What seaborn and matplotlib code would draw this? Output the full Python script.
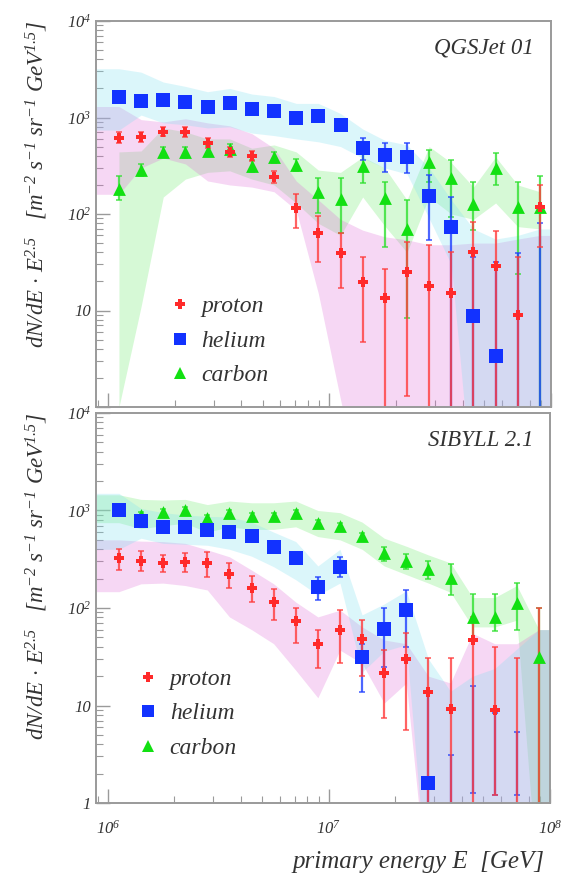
import numpy as np
import pandas as pd
import matplotlib
matplotlib.use("Agg")
import matplotlib.pyplot as plt
import seaborn as sns
from matplotlib.lines import Line2D
from matplotlib.ticker import FixedLocator, NullFormatter, FixedFormatter

# ---------------- data ----------------
log_energy = [6.05, 6.15, 6.25, 6.35, 6.45, 6.55, 6.65, 6.75, 6.85, 6.95,
              7.05, 7.15, 7.25, 7.35, 7.45, 7.55, 7.65, 7.75, 7.85, 7.95]
elements = ["proton", "helium", "carbon"]
panel_names = ["QGSJet 01", "SIBYLL 2.1"]

# QGSJet 01 panel
proton_q = [618, 632, 713, 703, 541, 439, 399, 244, 115, 64, 39, 19.9, 13.4, 25.2, 18.1, 15.1, 40.6, 29.1, 9.0, 119]
proton_q_hi = [700, 710, 800, 790, 610, 500, 450, 280, 160, 95, 63, 36, 27, 51, 48, 40, 83, 66, 36, 200]
proton_q_lo = [550, 560, 640, 630, 480, 390, 350, 210, 72, 32, 17, 4.7, 0.1, 1.3, 0.1, 0.1, 0.1, 0.1, 0.1, 45]
helium_q = [1615, 1470, 1530, 1435, 1275, 1415, 1228, 1180, 993, 1040, 841, 484, 404, 392, 152, 72.8, 8.75, 3.35, 0.3, 0.3]
helium_q_hi = [1750, 1600, 1660, 1560, 1390, 1540, 1340, 1290, 1090, 1140, 930, 610, 540, 544, 255, 150, 36, 32, 39, 80]
helium_q_lo = [1490, 1350, 1400, 1320, 1170, 1300, 1130, 1080, 900, 950, 760, 360, 270, 265, 54, 0.1, 0.1, 0.1, 0.1, 0.1]
carbon_q = [180, 286, 443, 437, 453, 472, 316, 387, 322, 168, 142, 316, 148, 70, 343, 234, 126, 297, 118, 119]
carbon_q_hi = [250, 330, 500, 490, 510, 530, 360, 440, 370, 235, 235, 480, 215, 140, 460, 360, 215, 430, 215, 245]
carbon_q_lo = [140, 245, 390, 385, 400, 420, 275, 340, 280, 102, 63, 210, 45, 8.4, 215, 93, 68, 200, 24, 0.1]

proton_q_band_hi = [1300, 950, 900, 970, 880, 820, 680, 480, 220, 140, 88, 68, 58, 54, 48, 48, 50, 50, 55, 60]
proton_q_band_lo = [160, 300, 380, 330, 220, 200, 190, 170, 110, 15, 1.2, 0.1, 0.1, 0.1, 0.1, 0.1, 0.1, 0.1, 0.1, 0.1]
helium_q_band_hi = [3200, 2950, 2330, 2100, 1850, 2000, 1750, 1650, 1400, 1400, 1100, 760, 580, 520, 300, 140, 70, 55, 60, 70]
helium_q_band_lo = [740, 1060, 880, 840, 780, 800, 690, 650, 600, 560, 500, 380, 300, 260, 90, 30, 0.1, 0.1, 0.1, 0.1]
carbon_q_band_hi = [440, 450, 780, 710, 600, 600, 480, 520, 440, 285, 270, 390, 300, 140, 500, 340, 190, 390, 200, 170]
carbon_q_band_lo = [1.0, 11, 150, 230, 270, 280, 230, 200, 130, 80, 60, 150, 75, 40, 150, 100, 88, 130, 74, 70]

# SIBYLL 2.1 panel
proton_s = [324, 306, 287, 298, 287, 222, 159, 116, 74, 42.5, 59.4, 48, 21.4, 29.8, 13.6, 9.2, 47, 9.0, 0.3, 0.3]
proton_s_hi = [405, 380, 350, 370, 375, 290, 215, 155, 100, 60, 95, 75, 37, 55, 31, 31, 80, 40, 31, 100]
proton_s_lo = [245, 240, 235, 235, 210, 160, 115, 75, 44, 24, 27, 20, 7.4, 5.6, 0.1, 0.1, 0.1, 1.2, 0.1, 0.1]
helium_s = [1010, 788, 683, 683, 631, 606, 547, 419, 324, 163, 265, 31.2, 60.4, 95.5, 1.61, 0.3, 0.3, 0.3, 0.3, 0.3]
helium_s_hi = [1100, 860, 750, 750, 690, 660, 600, 460, 355, 207, 333, 43, 100, 153, 14, 3.1, 16, 8.3, 5.3, 0.3]
helium_s_lo = [930, 720, 620, 620, 575, 550, 495, 380, 295, 122, 207, 13.6, 25, 40, 0.1, 0.1, 1.26, 1.2, 1.2, 0.3]
carbon_s = [1030, 900, 973, 1010, 832, 936, 879, 879, 936, 738, 693, 547, 369, 306, 250, 202, 81.5, 81.5, 113, 31.2]
carbon_s_hi = [1100, 960, 1040, 1080, 890, 1000, 940, 940, 1000, 790, 745, 590, 420, 360, 300, 280, 140, 140, 180, 100]
carbon_s_lo = [960, 840, 910, 940, 775, 870, 820, 820, 870, 690, 645, 505, 300, 250, 200, 136, 47, 58, 60, 1.0]

proton_s_band_hi = [500, 485, 480, 460, 395, 335, 245, 177, 115, 81, 95, 64, 47, 43, 20, 17, 55, 43, 43, 60]
proton_s_band_lo = [147, 177, 180, 170, 153, 81, 60, 43, 23, 12, 37, 27, 10.6, 17, 0.1, 0.1, 0.1, 0.1, 0.1, 0.1]
helium_s_band_hi = [1500, 1050, 950, 900, 870, 860, 760, 600, 480, 270, 400, 85, 110, 150, 30, 14, 20, 24, 38, 60]
helium_s_band_lo = [400, 520, 460, 450, 440, 400, 340, 265, 195, 136, 180, 22, 36, 42, 0.1, 0.1, 0.1, 0.1, 0.1, 0.1]
carbon_s_band_hi = [1450, 1300, 1280, 1300, 1150, 1250, 1200, 1200, 1250, 1000, 950, 760, 520, 430, 350, 290, 128, 128, 170, 60]
carbon_s_band_lo = [750, 650, 700, 740, 600, 680, 640, 640, 680, 540, 500, 400, 270, 220, 180, 145, 64, 64, 75, 0.1]

y_tick_values = [1, 10, 100, 1000, 10000]
y_tick_labels = ["1", "10", "$10^{2}$", "$10^{3}$", "$10^{4}$"]
x_tick_values = [1e6, 1e7, 1e8]
x_tick_labels = ["$10^{6}$", "$10^{7}$", "$10^{8}$"]

# ---------------- styles ----------------
marker_color = {"proton": "#ff2a2a", "helium": "#1232ff", "carbon": "#12e012"}
err_color = {"proton": "#ff3c3c", "helium": "#2040ff", "carbon": "#30e030"}
band_color = {"proton": "#e070d8", "helium": "#7fe0f0", "carbon": "#80ee80"}
band_alpha = {"proton": 0.28, "helium": 0.28, "carbon": 0.32}
markers = {"proton": "P", "helium": "s", "carbon": "^"}
msize = {"proton": 60, "helium": 95, "carbon": 85}

sns.set_style("ticks")
plt.rcParams['font.family'] = ['Liberation Serif', 'DejaVu Serif']
plt.rcParams['font.style'] = 'italic'
plt.rcParams['mathtext.fontset'] = 'custom'
plt.rcParams['mathtext.rm'] = 'Liberation Serif:italic'
plt.rcParams['mathtext.it'] = 'Liberation Serif:italic'
plt.rcParams['mathtext.default'] = 'rm'

energy = np.power(10.0, np.array(log_energy))
xlim = (8.84e5, 1.0e8)
ylim = (1, 1e4)

panels = [
    dict(name=panel_names[0],
         vals={"proton": proton_q, "helium": helium_q, "carbon": carbon_q},
         hi={"proton": proton_q_hi, "helium": helium_q_hi, "carbon": carbon_q_hi},
         lo={"proton": proton_q_lo, "helium": helium_q_lo, "carbon": carbon_q_lo},
         bhi={"proton": proton_q_band_hi, "helium": helium_q_band_hi, "carbon": carbon_q_band_hi},
         blo={"proton": proton_q_band_lo, "helium": helium_q_band_lo, "carbon": carbon_q_band_lo},
         extend={"proton": True, "helium": True, "carbon": False},
         rect=[96 / 568, 1 - 407 / 873, 455 / 568, 386 / 873],
         leg=(0.162, 0.288), show_x=False),
    dict(name=panel_names[1],
         vals={"proton": proton_s, "helium": helium_s, "carbon": carbon_s},
         hi={"proton": proton_s_hi, "helium": helium_s_hi, "carbon": carbon_s_hi},
         lo={"proton": proton_s_lo, "helium": helium_s_lo, "carbon": carbon_s_lo},
         bhi={"proton": proton_s_band_hi, "helium": helium_s_band_hi, "carbon": carbon_s_band_hi},
         blo={"proton": proton_s_band_lo, "helium": helium_s_band_lo, "carbon": carbon_s_band_lo},
         extend={"proton": True, "helium": True, "carbon": True},
         rect=[96 / 568, 1 - 803 / 873, 454 / 568, 390 / 873],
         leg=(0.092, 0.345), show_x=True),
]

fig = plt.figure(figsize=(5.68, 8.73), dpi=100)
frame_col = "#9a9a9a"

for p in panels:
    ax = fig.add_axes(p["rect"])
    ax.set_xscale("log")
    ax.set_yscale("log")
    ax.set_xlim(*xlim)
    ax.set_ylim(*ylim)

    # systematic bands
    for el in ["carbon", "proton", "helium"]:
        bx = list(energy)
        bl = list(p["blo"][el])
        bh = list(p["bhi"][el])
        if p["extend"][el]:
            bx = [xlim[0]] + bx + [xlim[1]]
            bl = [bl[0]] + bl + [bl[-1]]
            bh = [bh[0]] + bh + [bh[-1]]
        ax.fill_between(bx, bl, bh, color=band_color[el], alpha=band_alpha[el],
                        lw=0, zorder=1)

    # error bars
    for el in ["carbon", "helium", "proton"]:
        ax.vlines(energy, p["lo"][el], p["hi"][el], colors=err_color[el],
                  lw=1.6, alpha=0.8, zorder=2)
        ax.plot(energy, p["hi"][el], ls="none", marker="_", ms=4, mew=1.2,
                color=err_color[el], alpha=0.8, zorder=2)
        ax.plot(energy, p["lo"][el], ls="none", marker="_", ms=4, mew=1.2,
                color=err_color[el], alpha=0.8, zorder=2)

    # markers via seaborn
    rows = []
    for el in elements:
        for e, v in zip(energy, p["vals"][el]):
            rows.append({"energy": e, "flux": v, "element": el})
    df = pd.DataFrame(rows)
    for el in ["carbon", "helium", "proton"]:
        sns.scatterplot(data=df[df.element == el], x="energy", y="flux",
                        marker=markers[el], color=marker_color[el], s=msize[el],
                        linewidth=0, legend=False, ax=ax, zorder=3)
    ax.set_xscale("log")
    ax.set_yscale("log")
    ax.set_xlim(*xlim)
    ax.set_ylim(*ylim)
    ax.set_xlabel("")
    ax.set_ylabel("")

    # frame and ticks
    for s in ax.spines.values():
        s.set_color(frame_col)
        s.set_linewidth(1.4)
    ax.tick_params(which="both", direction="in", colors=frame_col,
                   labelcolor="#333333", top=False, right=False)
    ax.tick_params(which="major", length=10, width=1.0, labelsize=12)
    ax.tick_params(which="minor", length=5, width=0.8)
    ax.yaxis.set_major_locator(FixedLocator(y_tick_values))
    if p["show_x"]:
        ax.yaxis.set_major_formatter(FixedFormatter(y_tick_labels))
    else:
        ax.yaxis.set_major_formatter(FixedFormatter([""] + y_tick_labels[1:]))
    ax.yaxis.set_minor_locator(matplotlib.ticker.LogLocator(base=10, subs=np.arange(2, 10), numticks=20))
    ax.yaxis.set_minor_formatter(NullFormatter())
    ax.xaxis.set_major_locator(FixedLocator(x_tick_values))
    ax.xaxis.set_minor_locator(matplotlib.ticker.LogLocator(base=10, subs=np.arange(2, 10), numticks=20))
    ax.xaxis.set_minor_formatter(NullFormatter())
    if p["show_x"]:
        ax.xaxis.set_major_formatter(FixedFormatter(x_tick_labels))
        ax.tick_params(axis="x", which="major", pad=12)
    else:
        ax.xaxis.set_major_formatter(NullFormatter())

    ax.text(0.963, 0.93, p["name"], transform=ax.transAxes, ha="right", va="center",
            fontsize=16.5, style="italic", color="#333333")

    handles = [Line2D([], [], ls="none", marker=markers[el], color=marker_color[el],
                      ms={"proton": 7, "helium": 8, "carbon": 8}[el], mew=0)
               for el in elements]
    leg = ax.legend(handles, elements, loc="upper left", bbox_to_anchor=p["leg"],
                    frameon=False, handlelength=0.9, handletextpad=0.45,
                    labelspacing=0.55, borderpad=0, borderaxespad=0,
                    prop={"family": "Liberation Serif", "style": "italic", "size": 17})
    for t in leg.get_texts():
        t.set_color("#333333")

    top_px = 1 - p["rect"][1] - p["rect"][3]
    fig.text(37 / 568, 1 - top_px, "dN/dE $\\cdot$ E$^{2.5}$   [m$^{-2}$ s$^{-1}$ sr$^{-1}$ GeV$^{1.5}$]",
             rotation=90, ha="center", va="top", fontsize=16.5, style="italic", color="#333333")

fig.text(544 / 568, 1 - 862 / 873, "primary energy E  [GeV]", ha="right", va="center",
         fontsize=18, style="italic", color="#333333")

fig.savefig("out.png", dpi=100)
